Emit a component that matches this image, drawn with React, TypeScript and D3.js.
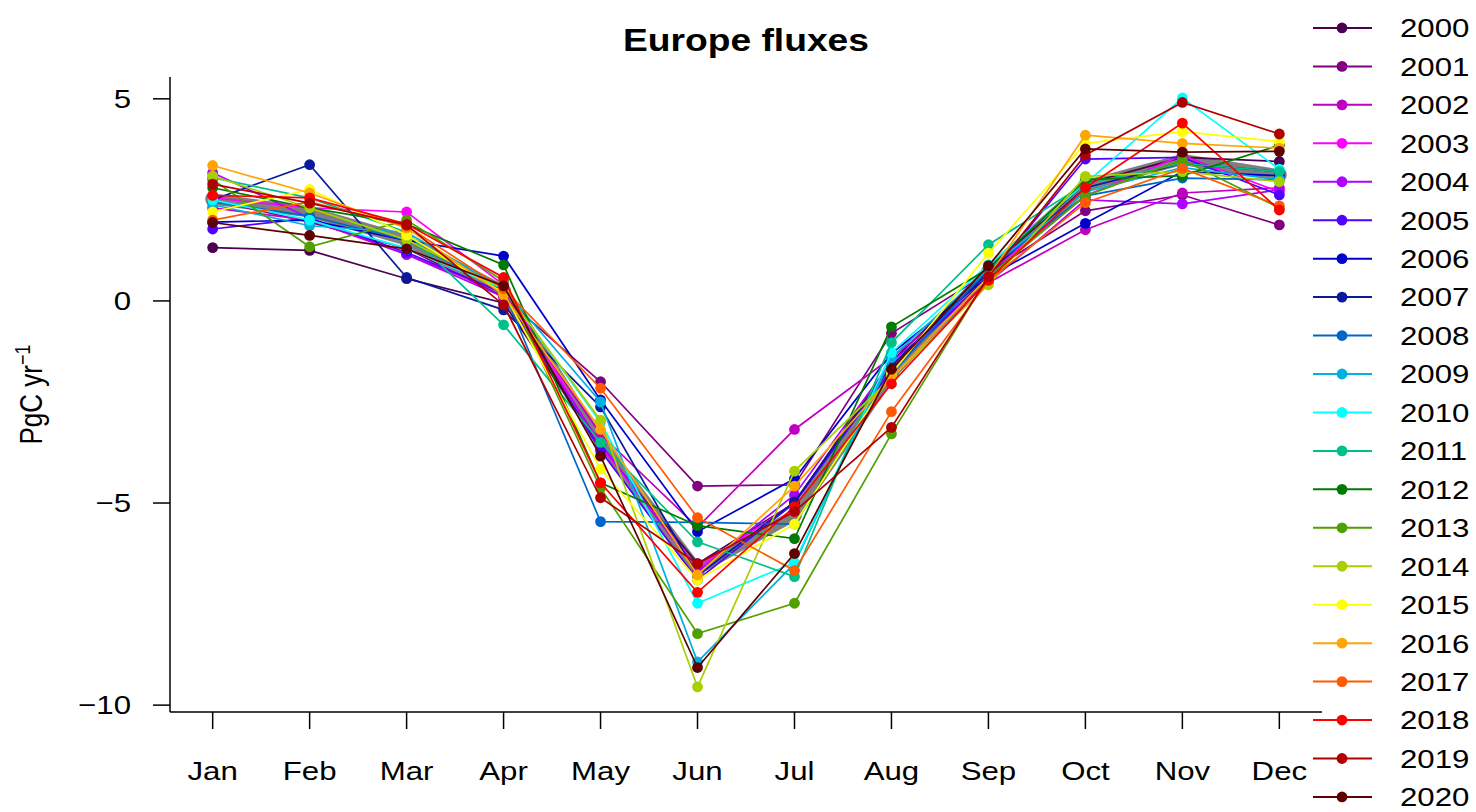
import React from "react";
import * as d3 from "d3";

const months = ["Jan", "Feb", "Mar", "Apr", "May", "Jun", "Jul", "Aug", "Sep", "Oct", "Nov", "Dec"];
const years = ["2000","2001","2002","2003","2004","2005","2006","2007","2008","2009","2010","2011","2012","2013","2014","2015","2016","2017","2018","2019","2020"];
const yearColors = ["#4C004F","#800080","#C000C0","#FF00FF","#B000FF","#5000FF","#0000CC","#0A1A9C","#0066CC","#00B0E0","#00FFFF","#00C08A","#007A00","#50A000","#A8D000","#FFFF00","#FFA500","#FF5A00","#FF0000","#B00000","#600000"];

const v2000 = [1.32, 1.25, 0.55, -0.05, -3.6, -6.5, -5.0, -1.5, 0.8, 2.9, 3.55, 3.45];
const v2001 = [2.5, 1.95, 1.3, 0.1, -2.0, -4.58, -4.55, -0.8, 0.7, 2.23, 2.62, 1.88];
const v2002 = [2.3, 2.0, 1.15, 0.2, -3.3, -5.6, -3.18, -1.4, 0.45, 1.76, 2.67, 2.8];
const v2003 = [2.55, 2.3, 2.2, 0.4, -3.6, -6.6, -5.0, -1.6, 0.7, 2.6, 3.6, 2.7];
const v2004 = [3.17, 2.05, 1.15, 0.1, -3.52, -6.7, -4.8, -1.5, 0.45, 2.5, 2.4, 2.75];
const v2005 = [1.78, 2.05, 1.2, 0.2, -3.7, -6.9, -5.0, -1.7, 0.6, 3.51, 3.55, 2.62];
const v2006 = [1.95, 2.0, 1.5, 1.11, -2.45, -5.71, -4.4, -1.3, 0.6, 1.92, 3.2, 3.1];
const v2007 = [2.5, 3.37, 0.58, -0.22, -2.62, -6.8, -4.97, -1.6, 0.7, 2.8, 3.4, 3.2];
const v2008 = [2.45, 2.1, 1.5, 0.25, -5.46, -5.48, -5.52, -1.8, 0.8, 2.6, 3.04, 3.0];
const v2009 = [2.38, 1.86, 1.7, 0.3, -2.5, -8.93, -6.5, -1.4, 0.8, 2.7, 3.3, 3.0];
const v2010 = [2.5, 2.0, 1.3, 0.3, -3.0, -7.48, -6.47, -1.28, 0.9, 2.9, 5.02, 3.26];
const v2011 = [3.05, 2.55, 1.7, -0.59, -3.5, -5.96, -6.82, -1.03, 1.39, 2.9, 3.4, 3.2];
const v2012 = [2.8, 2.3, 1.9, 0.89, -4.5, -5.56, -5.88, -0.64, 0.8, 3.0, 3.1, 3.85];
const v2013 = [3.0, 1.34, 2.0, 0.5, -4.63, -8.23, -7.48, -3.29, 0.6, 2.6, 3.49, 2.3];
const v2014 = [3.09, 2.3, 1.51, 0.3, -2.95, -9.55, -4.21, -1.9, 0.4, 3.08, 3.2, 2.95];
const v2015 = [2.2, 2.76, 1.63, 0.2, -4.16, -6.9, -5.52, -1.8, 1.18, 3.9, 4.19, 3.94];
const v2016 = [3.35, 2.67, 1.8, 0.15, -3.18, -6.78, -4.58, -1.9, 0.6, 4.1, 3.9, 3.78];
const v2017 = [2.0, 2.45, 1.85, 0.3, -2.16, -5.36, -6.67, -2.74, 0.5, 2.43, 3.28, 2.35];
const v2018 = [2.61, 2.55, 1.9, 0.58, -4.5, -7.21, -5.09, -2.05, 0.52, 2.8, 4.4, 2.25];
const v2019 = [2.89, 2.42, 1.88, -0.1, -4.87, -6.5, -5.21, -3.13, 0.6, 3.61, 4.91, 4.13];
const v2020 = [1.94, 1.62, 1.29, 0.37, -3.84, -9.07, -6.25, -1.69, 0.87, 3.76, 3.68, 3.7];
const meanValues = [2.52, 2.2, 1.5, 0.25, -3.5, -6.65, -5.3, -1.8, 0.72, 2.85, 3.5, 3.12];

const yearValues = [v2000,v2001,v2002,v2003,v2004,v2005,v2006,v2007,v2008,v2009,v2010,v2011,v2012,v2013,v2014,v2015,v2016,v2017,v2018,v2019,v2020];
const yTicks = [-10, -5, 0, 5];

const FONT = "'Liberation Sans', Arial, Helvetica, sans-serif";
const SX = 1.2;

function T(props: { x: number; y: number; anchor?: string; size: number; bold?: boolean; dy?: string; children: React.ReactNode }) {
  return (
    <text
      transform={`translate(${props.x},${props.y}) scale(${SX},1)`}
      textAnchor={props.anchor || "start"}
      fontSize={props.size}
      fontWeight={props.bold ? "bold" : "normal"}
      dy={props.dy}
    >
      {props.children}
    </text>
  );
}

export default function App() {
  const W = 1476, H = 812;
  const left = 170, right = 1322, top = 77, bottom = 712;
  const x = d3.scaleLinear().domain([0.56, 12.44]).range([left, right]);
  const y = d3.scaleLinear().domain([-10.17, 5.54]).range([bottom, top]);
  const line = d3.line<number>().x((_, i) => x(i + 1)).y((d) => y(d));

  const legendX0 = 1313, legendX1 = 1372, legendDot = 1342, legendText = 1400;
  const legendY = (i: number) => -10.5 + 38.45 * i;

  return (
    <svg width={W} height={H} style={{ position: "absolute", left: 0, top: 0, background: "#fff" }} fontFamily={FONT}>
      <rect x={0} y={0} width={W} height={H} fill="#fff" />
      <path d={line(meanValues) || ""} fill="none" stroke="#7F7F7F" strokeWidth={11} strokeLinejoin="round" />
      {meanValues.map((v, i) => (
        <circle key={"m" + i} cx={x(i + 1)} cy={y(v)} r={7.5} fill="#7F7F7F" />
      ))}
      {yearValues.map((vals, k) => (
        <g key={years[k]}>
          <path d={line(vals) || ""} fill="none" stroke={yearColors[k]} strokeWidth={1.7} />
          {vals.map((v, i) => (
            <circle key={i} cx={x(i + 1)} cy={y(v)} r={5.4} fill={yearColors[k]} />
          ))}
        </g>
      ))}
      <line x1={left} x2={left} y1={top} y2={bottom} stroke="#000" strokeWidth={1.5} />
      <line x1={left} x2={right} y1={bottom} y2={bottom} stroke="#000" strokeWidth={1.5} />
      {yTicks.map((t) => (
        <g key={t}>
          <line x1={left - 17} x2={left} y1={y(t)} y2={y(t)} stroke="#000" strokeWidth={1.5} />
          <T x={131} y={y(t)} dy="0.36em" anchor="end" size={26}>{t < 0 ? "\u2212" + Math.abs(t) : String(t)}</T>
        </g>
      ))}
      {months.map((m, i) => (
        <g key={m}>
          <line x1={x(i + 1)} x2={x(i + 1)} y1={bottom} y2={bottom + 17} stroke="#000" strokeWidth={1.5} />
          <T x={x(i + 1)} y={780} anchor="middle" size={26}>{m}</T>
        </g>
      ))}
      <T x={(left + right) / 2} y={51} anchor="middle" size={31} bold>Europe fluxes</T>
      <text transform={`translate(42, ${(top + bottom) / 2}) scale(${SX},1) rotate(-90)`} textAnchor="middle" fontSize={26}>
        PgC yr<tspan dy={-10} fontSize={18}>{"\u22121"}</tspan>
      </text>
      <g>
        <line x1={legendX0} x2={legendX1} y1={legendY(0)} y2={legendY(0)} stroke="#7F7F7F" strokeWidth={11} />
        <T x={legendText} y={legendY(0)} dy="0.36em" size={26}>mean</T>
        {years.map((yr, k) => (
          <g key={yr}>
            <line x1={legendX0} x2={legendX1} y1={legendY(k + 1)} y2={legendY(k + 1)} stroke={yearColors[k]} strokeWidth={2} />
            <circle cx={legendDot} cy={legendY(k + 1)} r={5.4} fill={yearColors[k]} />
            <T x={legendText} y={legendY(k + 1)} dy="0.36em" size={26}>{yr}</T>
          </g>
        ))}
      </g>
    </svg>
  );
}
